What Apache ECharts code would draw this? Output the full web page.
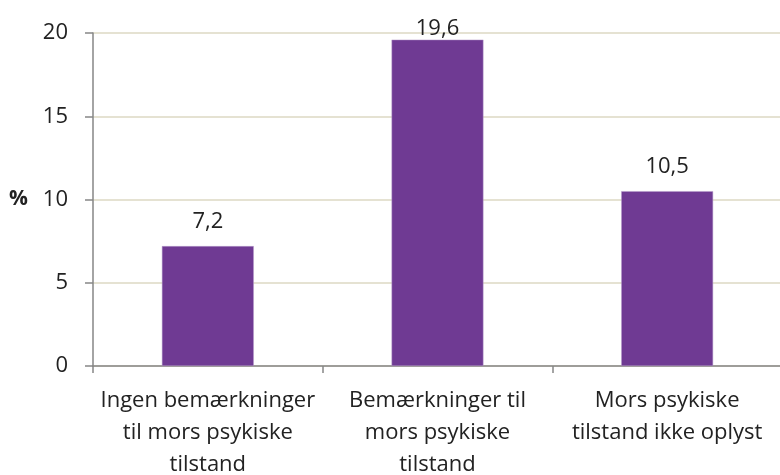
<!DOCTYPE html>
<html>
<head>
<meta charset="utf-8">
<script src="https://cdn.jsdelivr.net/npm/echarts@6/dist/echarts.min.js"></script>
<style>
	html, body { margin: 0; padding: 0; background: #fff; }
	#chart { width: 780px; height: 475px; }
</style>
</head>
<body>
<div id="chart"></div>
<script>
// kategorier og andele (%)
const categories = [
	'Ingen bemærkninger\ntil mors psykiske\ntilstand',
	'Bemærkninger til\nmors psykiske\ntilstand',
	'Mors psykiske\ntilstand ikke oplyst'
]
const values = [7.2, 19.6, 10.5]
const yTicks = [0, 5, 10, 15, 20]

const font = '"Open Sans", sans-serif'
const yMax = yTicks[yTicks.length - 1]

// label over den høje søjle trykkes ned så den holder sig inde i plottet
const barData = values.map(v => v / yMax > 0.95
	? { value: v, label: { distance: 0 } }
	: v)

echarts.init(document.getElementById('chart')).setOption({
	animation: false,
	grid: {
		left: 93,
		right: -2,
		top: 33,
		bottom: 109,
		outerBoundsMode: 'none'
	},
	xAxis: {
		type: 'category',
		data: categories,
		axisLine: { lineStyle: { color: '#868686', width: 1.5 } },
		axisTick: { show: true, length: 7, lineStyle: { color: '#868686', width: 1.5 } },
		axisLabel: {
			margin: 19,
			fontFamily: font,
			fontSize: 22,
			lineHeight: 32,
			color: '#222',
			interval: 0
		}
	},
	yAxis: {
		type: 'value',
		min: yTicks[0],
		max: yMax,
		interval: 5,
		name: '%',
		nameLocation: 'middle',
		nameRotate: 0,
		nameGap: 65,
		nameTextStyle: { fontFamily: font, fontSize: 21, fontWeight: 'bold', color: '#222' },
		axisLine: { show: true, lineStyle: { color: '#868686', width: 1.5 } },
		axisTick: { show: true, inside: false, length: 8, lineStyle: { color: '#868686', width: 1.5 } },
		axisLabel: {
			margin: 25,
			fontFamily: font,
			fontSize: 22,
			color: '#222',
			formatter: v => String(v)
		},
		splitLine: { lineStyle: { color: '#ddd9c3', width: 1.5 } }
	},
	series: [
		{
			type: 'bar',
			data: barData,
			barWidth: '40%',
			itemStyle: { color: '#6f3a93', borderColor: '#b69ccb', borderWidth: 0.5 },
			label: {
				show: true,
				position: 'top',
				distance: 13,
				fontFamily: font,
				fontSize: 22,
				color: '#222',
				formatter: p => String(p.value).replace('.', ',')
			}
		}
	]
})
</script>
</body>
</html>
